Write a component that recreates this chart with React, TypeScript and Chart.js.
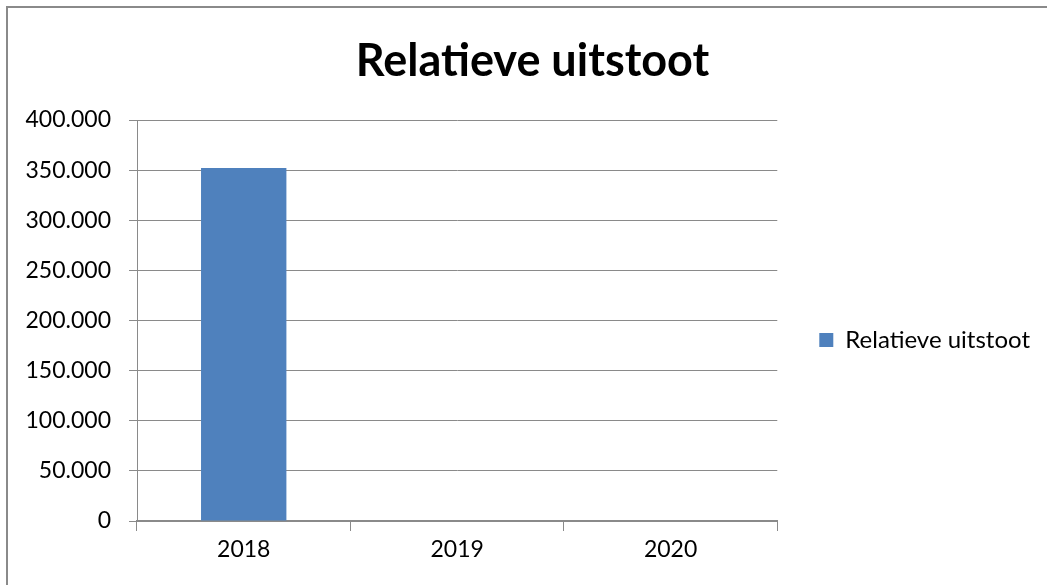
import React, { useEffect, useRef } from "react";
import { Chart, registerables } from "chart.js";

Chart.register(...registerables);

const categories = ["2018", "2019", "2020"];
const seriesLabel = "Relatieve uitstoot";
const seriesValues: (number | null)[] = [352000, null, null];
const yMin = 0;
const yMax = 400000;
const yStep = 50000;
const titleText = "Relatieve uitstoot";

const FONT = "Lato, 'Open Sans', sans-serif";
const GRID = "#8a8a8a";

const fmt = (v: number) => String(v).replace(/\B(?=(\d{3})+(?!\d))/g, ".");

export default function App() {
  const ref = useRef<HTMLCanvasElement | null>(null);

  useEffect(() => {
    if (!ref.current) return;
    const padLeft = 25;
    const padRight = 7;
    const chart = new Chart(ref.current, {
      type: "bar",
      data: {
        labels: categories,
        datasets: [
          {
            label: seriesLabel,
            data: seriesValues,
            backgroundColor: "#4f81bd",
            borderWidth: 0,
            barPercentage: 0.4,
            categoryPercentage: 1,
          },
        ],
      },
      options: {
        animation: false,
        responsive: false,
        devicePixelRatio: 1,
        layout: { padding: { left: padLeft, right: padRight, top: 10, bottom: 0 } },
        plugins: {
          tooltip: { enabled: false },
          title: {
            display: true,
            text: titleText,
            color: "#000",
            font: { family: FONT, size: 45, weight: "bold", lineHeight: 1.2 },
            padding: { top: 24, bottom: 32 },
          },
          legend: {
            display: true,
            position: "right",
            fullSize: false,
            maxWidth: 320,
            title: { display: true, text: "", padding: { top: 39, bottom: 0 }, font: { size: 1, lineHeight: 0 } },
            labels: {
              color: "#000",
              boxWidth: 14,
              boxHeight: 14,
              padding: 42,
              font: { family: FONT, size: 24 },
            },
          },
        },
        scales: {
          x: {
            offset: true,
            afterFit: (s: any) => {
              s.height = 64;
            },
            grid: {
              display: true,
              offset: true,
              drawOnChartArea: false,
              drawTicks: true,
              tickLength: 10,
              tickColor: GRID,
              color: GRID,
            },
            border: { display: true, color: GRID, width: 2 },
            ticks: { color: "#000", padding: 5, font: { family: FONT, size: 23 } },
          },
          y: {
            min: yMin,
            max: yMax,
            afterFit: (s: any) => {
              s.width = 137 - padLeft;
            },
            grid: {
              color: GRID,
              lineWidth: 1,
              drawTicks: true,
              tickLength: 8,
              tickColor: GRID,
            },
            border: { display: true, color: GRID, width: 1 },
            ticks: {
              stepSize: yStep,
              color: "#000",
              padding: 18,
              font: { family: FONT, size: 23 },
              callback: (v: any) => fmt(Number(v)),
            },
          },
        },
      },
    });
    return () => chart.destroy();
  }, []);

  return (
    <div
      style={{
        position: "fixed",
        left: 0,
        top: 0,
        width: 1047,
        height: 585,
        overflow: "hidden",
        background: "#fff",
      }}
    >
      <div
        style={{
          position: "absolute",
          left: 6,
          top: 6,
          width: 1200,
          height: 800,
          border: "2px solid #8a8a8a",
        }}
      />
      <canvas
        ref={ref}
        width={1047}
        height={585}
        style={{ position: "absolute", left: 0, top: 0, width: 1047, height: 585 }}
      />
    </div>
  );
}
